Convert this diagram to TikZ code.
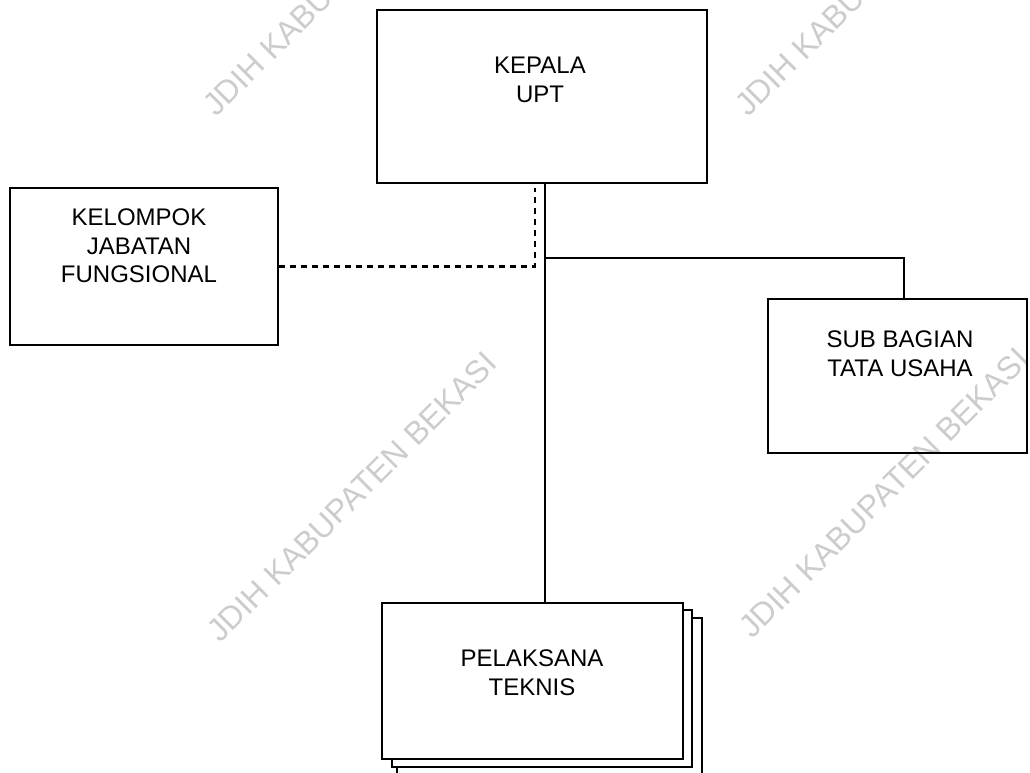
\documentclass[tikz,border=0pt]{standalone}
\usepackage{fontspec}
\setmainfont{Liberation Sans}
\usetikzlibrary{calc}
\begin{document}
\begin{tikzpicture}[x=1pt,y=-1pt,
  box/.style={draw, line width=2.2pt, inner sep=0pt},
  lbl/.style={font=\fontsize{24}{28.5}\selectfont, align=center, inner sep=0pt, anchor=north},
  wm/.style={font=\fontsize{32}{36}\selectfont, text=black!20, rotate=45, inner sep=0pt},
  link/.style={line width=1.6pt},
  dashlink/.style={line width=2.4pt, dash pattern=on 6pt off 5pt}]
\useasboundingbox (0,0) rectangle (1030,773);
\clip (0,0) rectangle (1030,773);
% watermarks
\node[wm] (wm1) at (348,-29) {JDIH KABUPATEN BEKASI};
\node[wm] (wm2) at (880,-29) {JDIH KABUPATEN BEKASI};
\node[wm] (wm3) at (352,497) {JDIH KABUPATEN BEKASI};
\node[wm] (wm4) at (884,493) {JDIH KABUPATEN BEKASI};
% boxes
\node[box, minimum width=330pt, minimum height=173pt] (kepala) at (542,96.5) {};
\node[lbl] (tkepala) at (540,57) {KEPALA\\UPT};
\node[box, minimum width=268pt, minimum height=157pt] (kelompok) at (144,266.5) {};
\node[lbl] (tkelompok) at (139,209) {KELOMPOK\\JABATAN\\FUNGSIONAL};
\node[box, minimum width=259pt, minimum height=154pt] (subbag) at (897.5,376) {};
\node[lbl] (tsubbag) at (900,331) {SUB BAGIAN\\TATA USAHA};
\node[box, minimum width=305pt, minimum height=167pt] (pel3) at (549.5,701.5) {};
\node[box, fill=white, minimum width=300pt, minimum height=157pt] (pel2) at (542,688.5) {};
\node[box, fill=white, minimum width=301pt, minimum height=156pt] (pel) at (532.5,681) {};
\node[lbl] (tpel) at (532,650) {PELAKSANA\\TEKNIS};
% connectors
\coordinate (trunk) at ($(kepala.south)+(3,0)$);
\draw[link] (trunk) -- (trunk |- pel.north);
\coordinate (fork) at ($(trunk)+(0,74)$);
\draw[link] (fork) -| ($(subbag.north)+(6.5,0)$);
\coordinate (dtop) at ($(kepala.south)+(-7,4)$);
\draw[dashlink] (kelompok.east) -| (dtop);
\end{tikzpicture}
\end{document}
